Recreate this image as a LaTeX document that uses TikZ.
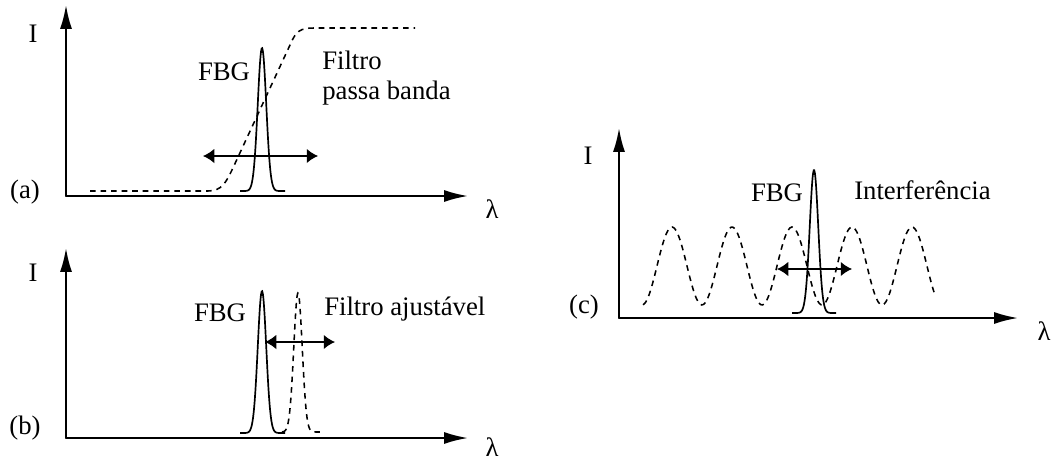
\documentclass[tikz,border=0pt]{standalone}
\usepackage{fontspec}
\setmainfont{Liberation Serif}
\usepackage{tkz-euclide}
\usetikzlibrary{arrows.meta}

\tikzset{
  eixo/.style={line width=1.4pt,-{Latex[length=17pt,width=8.5pt]}},
  desloc/.style={line width=1.4pt,{Latex[length=8pt,width=10.5pt]}-{Latex[length=8pt,width=10.5pt]}},
  pico/.style={line width=1.2pt},
  tracejado/.style={line width=1.1pt,dash pattern=on 4pt off 3.5pt},
  rotulo/.style={inner sep=0pt,font=\fontsize{19}{21}\selectfont}
}

\begin{document}
\begin{tikzpicture}[x=0.025cm,y=-0.025cm]
            \useasboundingbox (0,0) rectangle (1055,461);
            % (a) filtro passa banda
            \tkzDefPoint(66,196){Oa}
            \tkzDefPoint(66,5){Ya}
            \tkzDefPoint(468,196){Xa}
            \tkzDefPoint(203,156){Ea}
            \tkzDefPoint(318,156){Da}
            \tkzDrawSegments[eixo](Oa,Ya Oa,Xa)
            \tkzDrawSegment[desloc](Ea,Da)
            \draw[tracejado] (90,191) -- (208,191)
              .. controls (222,191) and (226,182) .. (232,170) -- (290,45)
              .. controls (296,31) and (300,28) .. (314,28) -- (415,28);
            \draw[pico] plot[domain=240:285,samples=80,smooth]
              (\x,{191-143*exp(-((\x-262)/6)^2)});
            \node[rotulo] (Ia) at (33,34) {I};
            \node[rotulo] (La) at (492,209) {λ};
            \node[rotulo] (Pa) at (25,192) {(a)};
            \node[rotulo] (Fa) at (224,72) {FBG};
            \node[rotulo,anchor=west,align=left] (Ta) at (322,78) {Filtro\\passa banda};
            % (b) filtro ajustavel
            \tkzDefPoint(66,438){Ob}
            \tkzDefPoint(66,248){Yb}
            \tkzDefPoint(468,438){Xb}
            \tkzDefPoint(265,342){Eb}
            \tkzDefPoint(335,342){Db}
            \tkzDrawSegments[eixo](Ob,Yb Ob,Xb)
            \tkzDrawSegment[desloc](Eb,Db)
            \draw[pico] plot[domain=240:285,samples=80,smooth]
              (\x,{433-142*exp(-((\x-262)/6)^2)});
            \draw[tracejado] plot[domain=282:320,samples=80,smooth]
              (\x,{432-139*exp(-((\x-298)/6)^2)});
            \node[rotulo] (Ib) at (33,273) {I};
            \node[rotulo] (Lb) at (492,447) {λ};
            \node[rotulo] (Pb) at (25,428) {(b)};
            \node[rotulo] (Fb) at (220,313) {FBG};
            \node[rotulo,anchor=west] (Tb) at (324,309) {Filtro ajustável};
            % (c) interferencia
            \tkzDefPoint(619,318){Oc}
            \tkzDefPoint(619,128){Yc}
            \tkzDefPoint(1018,318){Xc}
            \tkzDefPoint(777,269){Ec}
            \tkzDefPoint(852,269){Dc}
            \tkzDrawSegments[eixo](Oc,Yc Oc,Xc)
            \draw[tracejado] plot[domain=643:935,samples=150,smooth]
              (\x,{266-39*cos(6*(\x-672))});
            \tkzDrawSegment[desloc](Ec,Dc)
            \draw[pico] plot[domain=792:836,samples=80,smooth]
              (\x,{313-143*exp(-((\x-814)/6)^2)});
            \node[rotulo] (Ic) at (588,156) {I};
            \node[rotulo] (Lc) at (1044,331) {λ};
            \node[rotulo] (Pc) at (584,307) {(c)};
            \node[rotulo] (Fc) at (777,193) {FBG};
            \node[rotulo,anchor=west] (Tc) at (854,190) {Interferência};
        \end{tikzpicture}
\end{document}
